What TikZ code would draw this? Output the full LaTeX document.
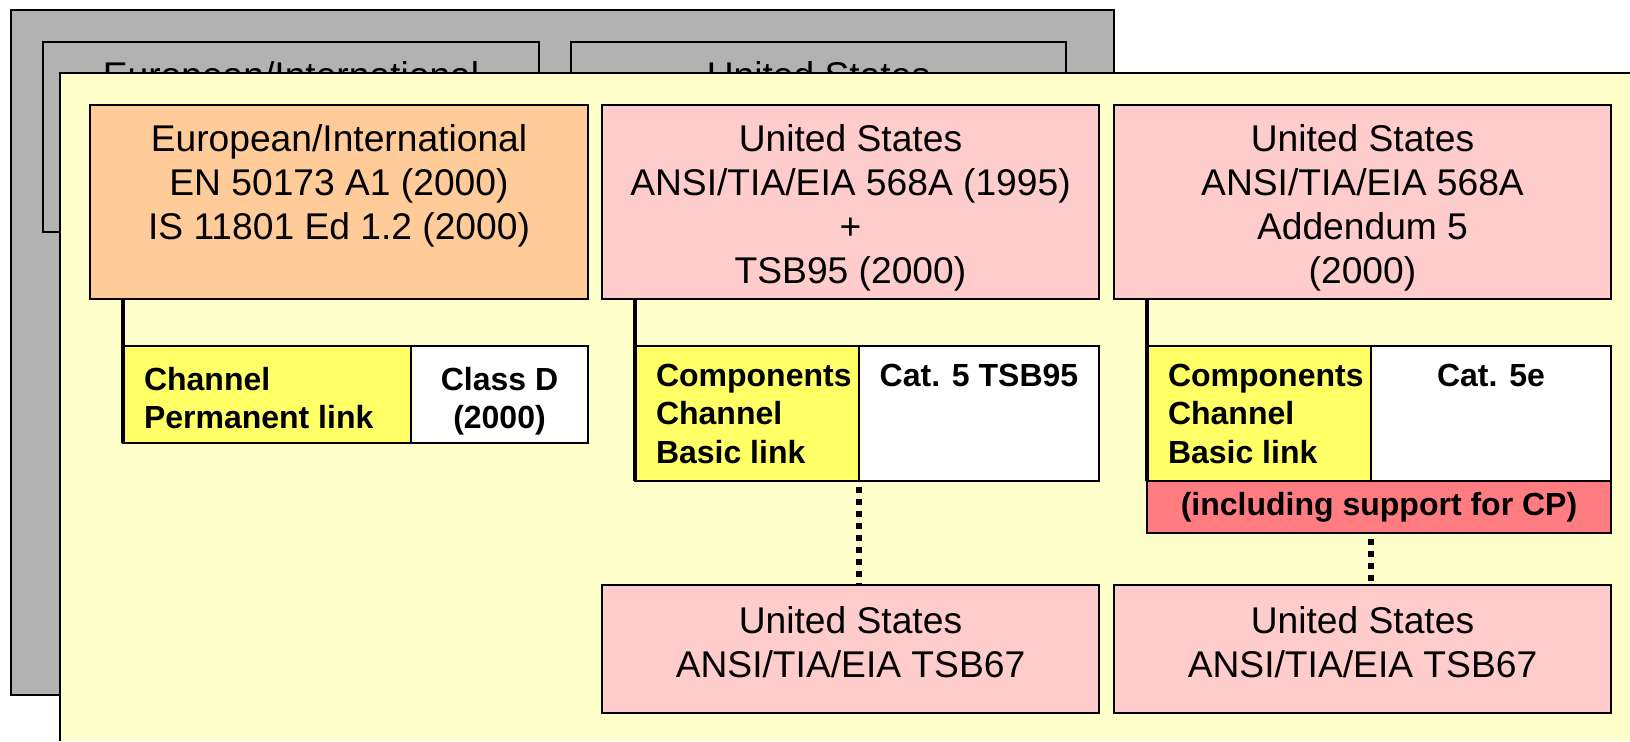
\documentclass[tikz,border=0pt]{standalone}
\usepackage{fontspec}
\setmainfont{Liberation Sans}
\usepackage{xcolor}
\usepackage{tikz}

\definecolor{greyback}{RGB}{178,178,178}
\definecolor{panelyellow}{RGB}{255,255,204}
\definecolor{euroorange}{RGB}{255,204,153}
\definecolor{uspink}{RGB}{255,204,204}
\definecolor{linkyellow}{RGB}{255,255,102}
\definecolor{cpred}{RGB}{255,124,128}

\newcommand{\bigtxt}{\fontsize{18.6}{22}\selectfont}
\newcommand{\smalltxt}{\bfseries\fontsize{16}{19.25}\selectfont}

\begin{document}
\begin{tikzpicture}[x=0.5pt, y=-0.5pt,
  box/.style={draw=black, line width=0.8pt, inner sep=0pt, outer sep=0pt},
  bigtext/.style={anchor=north, inner sep=0pt, outer sep=0pt, align=center, font=\bigtxt},
  smalltext/.style={anchor=north, inner sep=0pt, outer sep=0pt, font=\smalltxt},
  link/.style={line width=2pt},
  dots/.style={line width=3pt, dash pattern=on 3pt off 3pt, dash phase=3pt}]
\useasboundingbox (0,0) rectangle (1630,741);

% the older slide lying behind
\draw[fill=greyback, line width=0.8pt] (11,10) rectangle (1114,695);
\node[box, fill=greyback, minimum width=248pt, minimum height=95pt] (backeuro) at (291,137) {};
\node[box, fill=greyback, minimum width=247.5pt, minimum height=95pt] (backus) at (818.5,137) {};
\node[bigtext] (backeurotext) at (backeuro.north) {\rule{0pt}{23pt}European/International};
\node[bigtext] (backustext) at (backus.north) {\rule{0pt}{23pt}United States};

% front panel, runs off the page on the right and bottom
\fill[panelyellow] (60,73) rectangle (1630,741);
\draw[line width=0.8pt] (1630,73) -- (60,73) -- (60,741);

% standards
\node[box, fill=euroorange, minimum width=249pt, minimum height=97pt] (euro) at (339,202) {};
\node[box, fill=uspink, minimum width=248.5pt, minimum height=97pt] (usold) at (850.5,202) {};
\node[box, fill=uspink, minimum width=248.5pt, minimum height=97pt] (usnew) at (1362.5,202) {};

\node[bigtext] (eurotext) at (euro.north) {\rule{0pt}{23pt}European/International\\EN 50173 A1 (2000)\\IS 11801 Ed 1.2 (2000)};
\node[bigtext] (usoldtext) at (usold.north) {\rule{0pt}{23pt}United States\\ANSI/TIA/EIA 568A (1995)\\+\\TSB95 (2000)};
\node[bigtext] (usnewtext) at (usnew.north) {\rule{0pt}{23pt}United States\\ANSI/TIA/EIA 568A\\Addendum 5\\(2000)};

% what each one covers
\node[box, fill=linkyellow, minimum width=144pt, minimum height=48.5pt] (chaneuro) at (267,394.5) {};
\node[box, fill=white, minimum width=88.5pt, minimum height=48.5pt] (classeuro) at (499.5,394.5) {};
\node[box, fill=linkyellow, minimum width=112pt, minimum height=67.5pt] (chanold) at (747,413.5) {};
\node[box, fill=white, minimum width=120pt, minimum height=67.5pt] (catold) at (979,413.5) {};
\node[box, fill=linkyellow, minimum width=112pt, minimum height=67.5pt] (channew) at (1259,413.5) {};
\node[box, fill=white, minimum width=120pt, minimum height=67.5pt] (catnew) at (1491,413.5) {};
\node[box, fill=cpred, minimum width=232pt, minimum height=26pt, font=\smalltxt] (cpbar) at (1379,507) {(including support for CP)};

\node[smalltext, anchor=north west, align=left] (chaneurotext) at ([xshift=10.5pt]chaneuro.north west) {\rule{0pt}{22pt}Channel\\Permanent link};
\node[smalltext, align=center] (classeurotext) at (classeuro.north) {\rule{0pt}{22pt}Class D\\(2000)};
\node[smalltext, anchor=north west, align=left] (chanoldtext) at ([xshift=10.5pt]chanold.north west) {\rule{0pt}{20pt}Components\\Channel\\Basic link};
\node[smalltext] (catoldtext) at (catold.north) {\rule{0pt}{20pt}Cat. 5 TSB95};
\node[smalltext, anchor=north west, align=left] (channewtext) at ([xshift=10.5pt]channew.north west) {\rule{0pt}{20pt}Components\\Channel\\Basic link};
\node[smalltext] (catnewtext) at (catnew.north) {\rule{0pt}{20pt}Cat. 5e};

% test bulletins
\node[box, fill=uspink, minimum width=248.5pt, minimum height=64pt] (tsbold) at (850.5,649) {};
\node[box, fill=uspink, minimum width=248.5pt, minimum height=64pt] (tsbnew) at (1362.5,649) {};
\node[bigtext] (tsboldtext) at (tsbold.north) {\rule{0pt}{24pt}United States\\ANSI/TIA/EIA TSB67};
\node[bigtext] (tsbnewtext) at (tsbnew.north) {\rule{0pt}{24pt}United States\\ANSI/TIA/EIA TSB67};

% connectors
\draw[link] (chaneuro.north west |- euro.south) -- (chaneuro.south west);
\draw[link] (chanold.north west |- usold.south) -- (chanold.south west);
\draw[link] (channew.north west |- usnew.south) -- (channew.south west);

\draw[dots] (catold.south west) -- (catold.south west |- tsbold.north);
\draw[dots] (catnew.south west |- cpbar.south) -- (catnew.south west |- tsbnew.north);

\end{tikzpicture}
\end{document}
